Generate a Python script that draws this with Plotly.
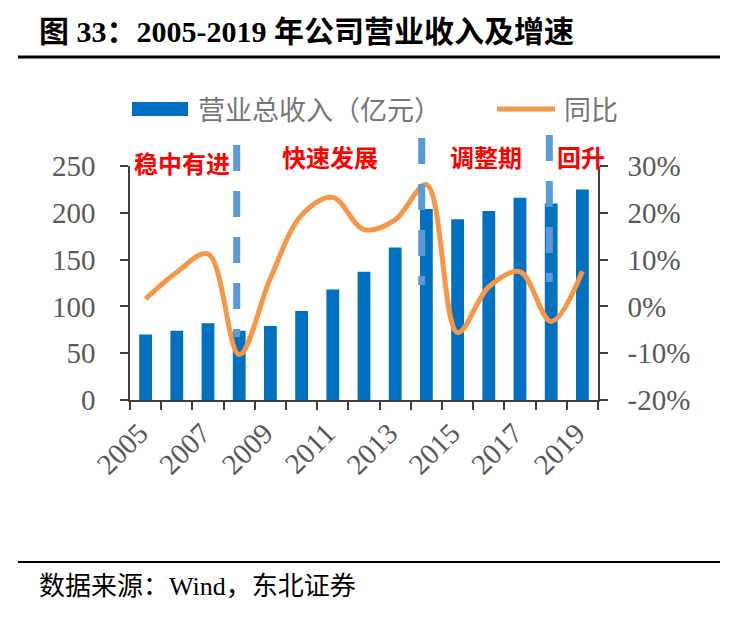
import plotly.graph_objects as go

years = list(range(2005, 2020))
revenue = [70, 74, 82, 74, 79, 95, 118, 137, 163, 204, 193, 202, 216, 210, 225]
yoy = [1.6, 7.3, 11.2, -10.3, 6.0, 19.5, 23.3, 16.4, 18.5, 26.0, -5.6, 4.2, 7.4, -3.2, 7.5]
label_years = [2005, 2007, 2009, 2011, 2013, 2015, 2017, 2019]
pct_ticks = [-20, -10, 0, 10, 20, 30]
pct_labels = ["-20%", "-10%", "0%", "10%", "20%", "30%"]

# phase dividers (x position, top px, bottom px)
phase_breaks = [(2007.92, 145, 337), (2013.85, 138, 285), (2017.94, 135, 282)]
phases = [("稳中有进", 132, 162), ("快速发展", 280, 157), ("调整期", 448, 157), ("回升", 555, 157)]

# page has an 8px body margin, so the figure is drawn 8px smaller and shifted
OFF = 8
W, H = 735 - OFF, 619 - OFF
L, R, T, B = 130 - OFF, 598 - OFF, 166 - OFF, 400 - OFF


def px(x):
    return (x - OFF - L) / (R - L)


def py(y):
    return (B - (y - OFF)) / (B - T)


num_font = "Liberation Serif, Noto Sans CJK SC"
cjk_font = "Noto Sans CJK SC"
tick_grey = "#595959"
axis_col = "#404040"

fig = go.Figure()
fig.add_trace(go.Bar(x=years, y=revenue, name="营业总收入（亿元）", width=0.41,
                     marker=dict(color="#0070C0", line=dict(width=0))))
fig.add_trace(go.Scatter(x=years, y=yoy, name="同比", yaxis="y2", mode="lines",
                         line=dict(color="#F79646", width=5, shape="spline", smoothing=1)))

shapes = []
for xb, top, bot in phase_breaks:
    shapes.append(dict(type="line", xref="x", yref="paper", x0=xb, x1=xb, y0=py(top), y1=py(bot),
                       line=dict(color="#5B9BD5", width=7, dash="26px,20px"), layer="above"))

# custom legend symbols
shapes.append(dict(type="rect", xref="paper", yref="paper", x0=px(132), x1=px(188), y0=py(116), y1=py(102),
                   fillcolor="#0070C0", line=dict(width=0)))
shapes.append(dict(type="line", xref="paper", yref="paper", x0=px(497), x1=px(555), y0=py(109), y1=py(109),
                   line=dict(color="#F79646", width=5)))
# header / footer rules
shapes.append(dict(type="line", xref="paper", yref="paper", x0=px(18), x1=px(720), y0=py(57), y1=py(57),
                   line=dict(color="black", width=3)))
shapes.append(dict(type="line", xref="paper", yref="paper", x0=px(18), x1=px(720), y0=py(562), y1=py(562),
                   line=dict(color="black", width=2)))

annotations = [
    dict(text="<b>图 33：2005-2019 年公司营业收入及增速</b>", x=px(37), y=py(31),
         font=dict(family=num_font, size=30, color="black")),
    dict(text="营业总收入（亿元）", x=px(196), y=py(108), font=dict(family=cjk_font, size=27, color="#767676")),
    dict(text="同比", x=px(562), y=py(108), font=dict(family=cjk_font, size=27, color="#767676")),
    dict(text="数据来源：Wind，东北证券", x=px(37), y=py(586), font=dict(family=num_font, size=26, color="black")),
]
for txt, x0, yc in phases:
    annotations.append(dict(text="<b>" + txt + "</b>", x=px(x0), y=py(yc),
                            font=dict(family=cjk_font, size=24, color="#FF0000")))
for a in annotations:
    a.update(xref="paper", yref="paper", xanchor="left", yanchor="middle", showarrow=False)

fig.update_layout(
    width=W, height=H,
    margin=dict(l=L, r=W - R, t=T, b=H - B),
    paper_bgcolor="white", plot_bgcolor="white",
    showlegend=False,
    shapes=shapes, annotations=annotations,
    xaxis=dict(range=[2004.5, 2019.5], tickvals=label_years, tickangle=-45,
               ticks="outside", ticklen=8, tickcolor="rgba(0,0,0,0)",
               ticklabelstandoff=-5, ticklabelshift=-6,
               minor=dict(tickvals=[y - 0.5 for y in years] + [2019.5], ticks="outside",
                          ticklen=8, tickcolor=axis_col, tickwidth=1.5),
               showline=True, linecolor=axis_col, linewidth=1.5, showgrid=False, zeroline=False,
               tickfont=dict(family=num_font, size=29, color=tick_grey)),
    yaxis=dict(range=[0, 250], dtick=50, ticks="outside", ticklen=8, tickcolor=axis_col, tickwidth=1.5,
               showline=True, linecolor=axis_col, linewidth=1.5, showgrid=False, zeroline=False,
               ticklabelstandoff=19, tickfont=dict(family=num_font, size=29, color=tick_grey)),
    yaxis2=dict(range=[-20, 30], tickvals=pct_ticks, ticktext=pct_labels, overlaying="y", side="right",
                ticks="outside", ticklen=8, tickcolor=axis_col, tickwidth=1.5,
                showline=True, linecolor=axis_col, linewidth=1.5, showgrid=False, zeroline=False,
                ticklabelstandoff=14, tickfont=dict(family=num_font, size=29, color=tick_grey)),
)

fig.write_html("out.html")
